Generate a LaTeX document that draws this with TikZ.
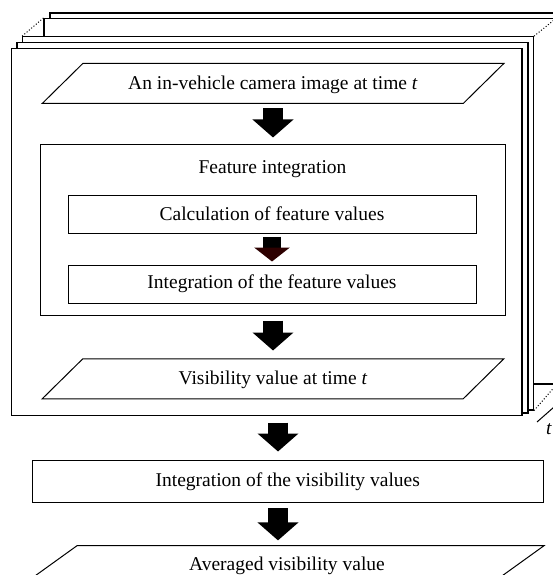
\documentclass[tikz,border=0pt]{standalone}
\usepackage{fontspec}
\setmainfont{Liberation Serif}
\usetikzlibrary{arrows.meta,calc}
\definecolor{headred}{RGB}{45,0,0}
\begin{document}
\begin{tikzpicture}[x=1pt,y=-1pt,line width=1pt,
  lbl/.style={font=\fontsize{19.5}{22}\selectfont,inner sep=0pt},
  framebox/.style={draw,fill=white,line width=1.1pt,inner sep=0pt},
  plainbox/.style={draw,lbl},
  bigarrow/.style={line width=20pt,-{Triangle[width=40pt,length=18pt]}},
  pgramline/.style={line width=1pt,line join=miter},
  depth/.style={dotted,line width=1pt},
]
\useasboundingbox (0,0) rectangle (553,575);
\clip (0,0) rectangle (553,575);

% stacked frames (back to front)
\node[framebox,minimum width=512pt,minimum height=367pt] (f4) at (306,196.5) {};
\node[framebox,minimum width=512pt,minimum height=365.5pt] (f3) at (300,201.25) {};
\node[framebox,minimum width=510.8pt,minimum height=373.3pt] (f2) at (278.1,223.35) {};
\node[framebox,minimum width=511pt,minimum height=370.5pt] (f1) at (272.5,227.75) {};
\node[framebox,minimum width=510.5pt,minimum height=367pt] (f0) at (266.75,232) {};
\draw[depth] (f2.north west) -- (f3.north west);
\draw[depth] (f2.north east) -- (f3.north east);
\draw[depth] (f2.south east) -- (f3.south east);

% time axis
\coordinate (t0) at (537,422);
\coordinate (t1) at (562,400);
\draw (t0) -- (t1);
\node[lbl,anchor=west] (tlab) at (545.5,429) {\itshape t};

% input parallelogram
\node[lbl,minimum width=420pt,minimum height=39pt] (p1) at (273,85) {An in-vehicle camera image at time \textit{t}};
\draw[pgramline] ($(p1.north west)+(20.3,-1.5)$) -- ($(p1.north east)+(20.3,-1.5)$)
  -- ($(p1.south east)+(-20.3,-1.5)$) -- ($(p1.south west)+(-20.3,-1.5)$) -- cycle;

% feature integration block
\node[draw,line width=1pt,minimum width=465pt,minimum height=171pt,inner sep=0pt] (fi) at (272.5,229.5) {};
\node[lbl] (fit) at (272.5,169) {Feature integration};
\node[plainbox,minimum width=408pt,minimum height=38pt] (c1) at (272,214) {\raisebox{-1.5pt}{Calculation of feature values}};
\node[plainbox,minimum width=408pt,minimum height=38pt] (c2) at (272,284) {\raisebox{-1.5pt}{Integration of the feature values}};

% visibility parallelogram
\node[lbl,minimum width=420pt,minimum height=39pt] (p2) at (273,380.3) {Visibility value at time \textit{t}};
\draw[pgramline] ($(p2.north west)+(20.3,-1.5)$) -- ($(p2.north east)+(20.3,-1.5)$)
  -- ($(p2.south east)+(-20.3,-1.5)$) -- ($(p2.south west)+(-20.3,-1.5)$) -- cycle;

% integration of visibility values
\node[plainbox,minimum width=510.5pt,minimum height=41.6pt] (iv) at (287.75,481.5) {\raisebox{-1.5pt}{Integration of the visibility values}};

% averaged parallelogram
\node[lbl,minimum width=466pt,minimum height=39.3pt,anchor=north west] (p3) at (49,545.7) {};
\node[lbl] (p3t) at (287,566) {Averaged visibility value};
\draw[pgramline] ($(p3.north west)+(28,0)$) -- ($(p3.north east)+(28,0)$)
  -- ($(p3.south east)+(-28,0)$) -- ($(p3.south west)+(-28,0)$) -- cycle;

% block arrows
\coordinate (ax) at (273,0);
\coordinate (bx) at (278,0);
\draw[bigarrow,shorten <=3.5pt,shorten >=6pt] (p1.south -| ax) -- (fi.north -| ax);
\draw[line width=18pt,-{Triangle[width=35pt,length=14pt,color=headred]},shorten <=3pt,shorten >=3pt] (c1.south) -- (c2.north);
\draw[bigarrow,shorten <=5pt,shorten >=9.8pt] (fi.south -| ax) -- (p2.north -| ax);
\draw[bigarrow,shorten <=6.5pt,shorten >=8.7pt] (f0.south -| bx) -- (iv.north -| bx);
\draw[bigarrow,shorten <=5.3pt,shorten >=5.3pt] (iv.south -| bx) -- (p3.north -| bx);
\end{tikzpicture}
\end{document}
